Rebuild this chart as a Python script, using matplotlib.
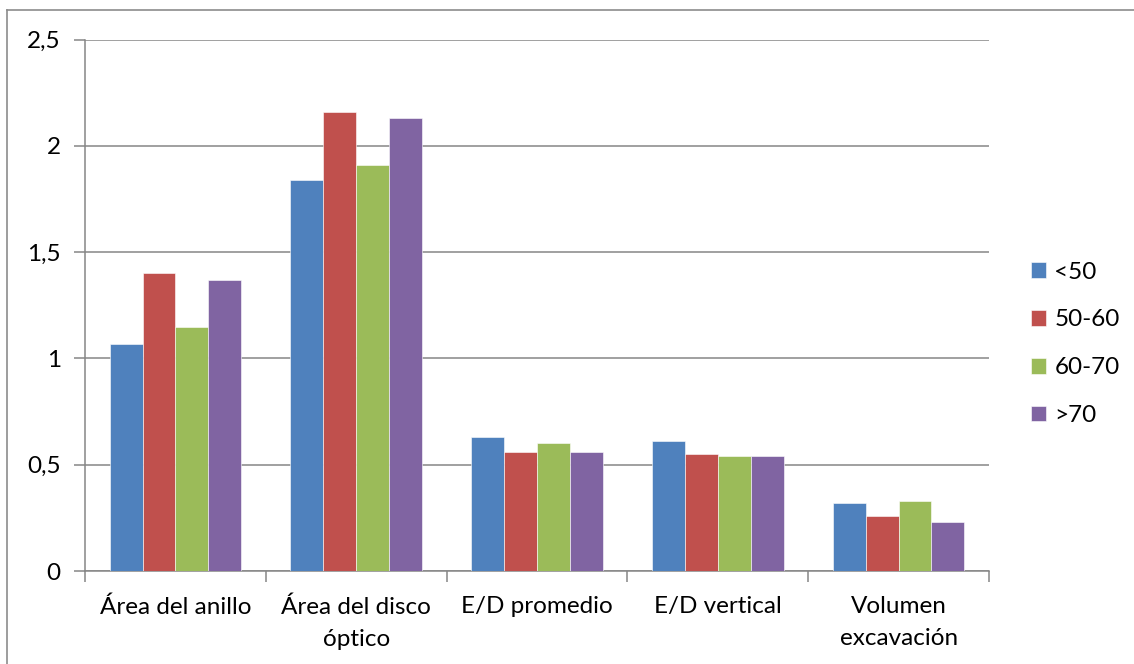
import matplotlib
matplotlib.use("Agg")
import matplotlib.pyplot as plt
from matplotlib.lines import Line2D
from matplotlib.ticker import FuncFormatter
import numpy as np

plt.rcParams["font.family"] = ["Lato", "DejaVu Sans"]

CATEGORIES = ["Área del anillo", "Área del disco\nóptico", "E/D promedio", "E/D vertical", "Volumen\nexcavación"]
SERIES = ["<50", "50-60", "60-70", ">70"]
VALUES_LT50 = [1.07, 1.84, 0.63, 0.61, 0.32]
VALUES_50_60 = [1.40, 2.16, 0.56, 0.55, 0.26]
VALUES_60_70 = [1.15, 1.91, 0.60, 0.54, 0.33]
VALUES_GT70 = [1.37, 2.13, 0.56, 0.54, 0.23]
Y_TICKS = [0, 0.5, 1, 1.5, 2, 2.5]

COLORS = ["#4F81BD", "#C0504D", "#9BBB59", "#8064A2"]
GRID = "#868686"
FS = 17.5

W, H = 1134, 664
fig = plt.figure(figsize=(W / 100, H / 100), dpi=100)
fig.patch.set_facecolor("white")

# outer chart frame (only top and left edges are visible)
fig.add_artist(Line2D([7 / W, 1], [1 - 10 / H, 1 - 10 / H], color="#8c8c8c", lw=1.2))
fig.add_artist(Line2D([7 / W, 7 / W], [0, 1 - 10 / H], color="#8c8c8c", lw=1.2))

ax = fig.add_axes([85 / W, 93 / H, (989 - 85) / W, (624.5 - 93) / H])

all_values = [VALUES_LT50, VALUES_50_60, VALUES_60_70, VALUES_GT70]
n_series = len(all_values)
bar_w = 1 / (n_series + 1.5)
x = np.arange(len(CATEGORIES))
for i, (vals, name, col) in enumerate(zip(all_values, SERIES, COLORS)):
    offs = (i - (n_series - 1) / 2) * bar_w
    ax.bar(x + offs, vals, width=bar_w, color=col, edgecolor="white", linewidth=0.4,
           label=name, zorder=3)

ax.set_xlim(-0.5, len(CATEGORIES) - 0.5)
ax.set_ylim(0, 2.5)
ax.set_yticks(Y_TICKS)
ax.yaxis.set_major_formatter(FuncFormatter(lambda v, p: f"{v:g}".replace(".", ",")))
ax.yaxis.grid(True, color=GRID, lw=1.1, zorder=0)
ax.set_axisbelow(True)

# category labels centred, tick marks on category boundaries
ax.set_xticks(x)
ax.set_xticklabels(CATEGORIES, fontsize=FS, linespacing=1.65)
ax.tick_params(axis="x", which="major", length=0, pad=18)
ax.set_xticks(np.arange(-0.5, len(CATEGORIES)), minor=True)
ax.tick_params(axis="x", which="minor", length=8, width=1.1, color=GRID, direction="out")
ax.tick_params(axis="y", length=8, width=1.1, color=GRID, labelsize=FS, pad=9.5)

for side in ["top", "right"]:
    ax.spines[side].set_visible(False)
for side in ["left", "bottom"]:
    ax.spines[side].set_color(GRID)
    ax.spines[side].set_linewidth(1.1)

leg = ax.legend(loc="upper left", bbox_to_anchor=(1021 / W, (664 - 252) / H),
                bbox_transform=fig.transFigure, frameon=False, fontsize=FS,
                handlelength=0.62, handleheight=0.62, handletextpad=0.35,
                labelspacing=1.1, borderaxespad=0)

fig.savefig("out.png", dpi=100)
